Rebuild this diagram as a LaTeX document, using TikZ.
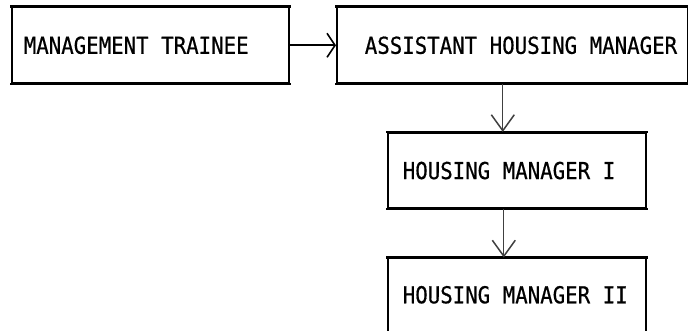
\documentclass[tikz,border=0pt]{standalone}
\usepackage{fontspec}
\setmonofont[FakeStretch=0.89,FakeBold=0.6]{DejaVu Sans Mono}
\usetikzlibrary{arrows.meta}
% typewriter face at label size, with a fixed full-pitch word space
\newcommand{\postfont}{\ttfamily\fontsize{23.3}{26}\selectfont
  \spaceskip=12.6pt plus 0pt minus 0pt\relax}
\begin{document}
\begin{tikzpicture}[x=1pt,y=-1pt,
  post/.style={draw, line width=1.6pt, inner sep=0pt, anchor=north west,
    align=flush left, font=\postfont},
  rule/.style={line width=2.2pt, line cap=rect},
  hArrow/.style={line width=1.6pt, -{Straight Barb[length=8pt,width=24pt,line width=1.6pt]}},
  vArrow/.style={line width=1.3pt, black!75, -{Straight Barb[length=16pt,width=23pt,line width=1.5pt]}}]
  \useasboundingbox (0,0) rectangle (688,331);

  % career ladder posts
  \node[post, text width=277pt, minimum height=76pt] (trainee) at (11,6.5)
    {\hspace*{12pt}MANAGEMENT TRAINEE};
  \node[post, text width=351pt, minimum height=76pt] (assistant) at (336,6.5)
    {\hspace*{28pt}ASSISTANT HOUSING MANAGER};
  \node[post, text width=258pt, minimum height=75.5pt] (hm1) at (387,132)
    {\hspace*{15pt}HOUSING MANAGER I};
  \node[post, text width=258pt, minimum height=73pt] (hm2) at (387,257.5)
    {\hspace*{15pt}HOUSING MANAGER II};

  % heavier top and bottom rules of each box
  \foreach \n in {trainee,assistant,hm1,hm2}
    \draw[rule] (\n.north west) -- (\n.north east)
                (\n.south west) -- (\n.south east);

  % promotion paths
  \draw[hArrow] (trainee.east) -- (assistant.west);
  \draw[vArrow] ([xshift=-14pt]hm1.north |- assistant.south) -- ([xshift=-14pt]hm1.north);
  \draw[vArrow] ([xshift=-13pt]hm2.north |- hm1.south) -- ([xshift=-13pt]hm2.north);
\end{tikzpicture}
\end{document}
